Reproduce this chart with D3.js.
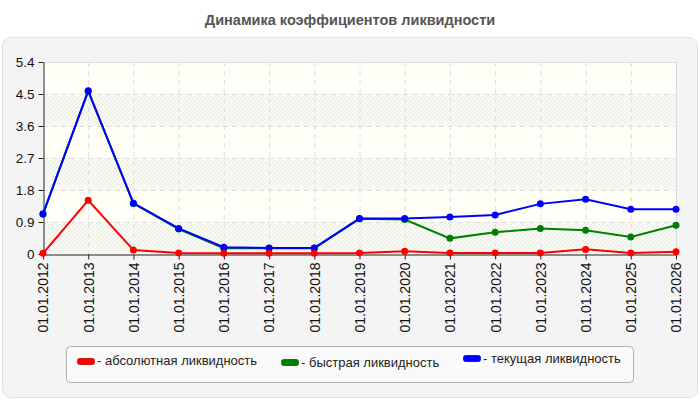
<!DOCTYPE html>
<html>
<head>
<meta charset="utf-8">
<script src="https://cdn.jsdelivr.net/npm/d3@7"></script>
<style>
  body { margin: 0; background: #fff; font-family: "Liberation Sans", Arial, sans-serif; }
  svg { display: block; }
</style>
</head>
<body>
<svg id="chart" width="700" height="400"></svg>
<script>
// dates on the x axis
const dates = ['01.01.2012', '01.01.2013', '01.01.2014', '01.01.2015', '01.01.2016',
  '01.01.2017', '01.01.2018', '01.01.2019', '01.01.2020', '01.01.2021',
  '01.01.2022', '01.01.2023', '01.01.2024', '01.01.2025', '01.01.2026'];

// liquidity ratios
const absolute = [0.02, 1.51, 0.11, 0.03, 0.02, 0.02, 0.02, 0.03, 0.08, 0.03, 0.03, 0.03, 0.13, 0.03, 0.06];
const quick    = [1.12, 4.58, 1.42, 0.70, 0.16, 0.16, 0.16, 0.99, 0.97, 0.44, 0.61, 0.72, 0.67, 0.48, 0.81];
const current  = [1.13, 4.59, 1.43, 0.72, 0.19, 0.17, 0.17, 1.00, 1.00, 1.04, 1.10, 1.41, 1.54, 1.26, 1.26];

const yTicks = [0, 0.9, 1.8, 2.7, 3.6, 4.5, 5.4];

const series = [
  { name: '- абсолютная ликвидность', values: absolute, color: '#ff0000' },
  { name: '- быстрая ликвидность', values: quick, color: '#008000' },
  { name: '- текущая ликвидность', values: current, color: '#0000ff' }
];

const svg = d3.select('#chart');
const margin = { left: 43, right: 24, top: 62, bottom: 146 };
const W = 700, H = 400;

const x = d3.scalePoint().domain(dates).range([margin.left, W - margin.right]);
const y = d3.scaleLinear().domain([0, 5.4]).range([H - margin.bottom, margin.top]);

// hatch pattern for the plot background
const defs = svg.append('defs');
const pat = defs.append('pattern')
  .attr('id', 'hatch')
  .attr('patternUnits', 'userSpaceOnUse')
  .attr('width', 4).attr('height', 4);
pat.append('rect').attr('width', 4).attr('height', 4).attr('fill', '#fafaf5');
pat.append('path').attr('d', 'M-1,1 l2,-2 M0,4 l4,-4 M3,5 l2,-2')
  .attr('stroke', '#e6e6e3').attr('stroke-width', 0.8);

// title
svg.append('text')
  .attr('x', 350).attr('y', 25)
  .attr('text-anchor', 'middle')
  .attr('font-size', 14.5).attr('font-weight', 'bold')
  .attr('fill', '#555')
  .text('Динамика коэффициентов ликвидности');

// outer panel
svg.append('rect')
  .attr('x', 2.5).attr('y', 37.5).attr('width', 695).attr('height', 360)
  .attr('rx', 8)
  .attr('fill', '#f4f4f4').attr('stroke', '#e2e2e2');

// plot background
const x0 = margin.left, x1 = W - margin.right;
svg.append('rect')
  .attr('x', x0).attr('y', y(5.4)).attr('width', x1 - x0).attr('height', y(0) - y(5.4))
  .attr('fill', '#fffff8');
// hatched bands
[[0, 0.9], [1.8, 2.7], [3.6, 4.5]].forEach(b => {
  svg.append('rect')
    .attr('x', x0).attr('y', y(b[1])).attr('width', x1 - x0).attr('height', y(b[0]) - y(b[1]))
    .attr('fill', 'url(#hatch)');
});

// grid
svg.append('g').selectAll('line')
  .data(yTicks.slice(1, -1))
  .join('line')
  .attr('x1', x0).attr('x2', x1)
  .attr('y1', d => y(d) + 0.5).attr('y2', d => y(d) + 0.5)
  .attr('stroke', '#dedede').attr('stroke-dasharray', '5,4');
svg.append('g').selectAll('line')
  .data(dates.slice(1, -1))
  .join('line')
  .attr('x1', d => x(d) + 0.5).attr('x2', d => x(d) + 0.5)
  .attr('y1', y(5.4)).attr('y2', y(0))
  .attr('stroke', '#dedede').attr('stroke-dasharray', '5,4');
// top and right border
svg.append('path')
  .attr('d', `M${x0},${y(5.4) + 0.5}H${x1 + 0.5}V${y(0)}`)
  .attr('fill', 'none').attr('stroke', '#dcdcdc');

// axes
const yAxis = svg.append('g')
  .attr('transform', `translate(${x0 + 0.5},0)`)
  .call(d3.axisLeft(y).tickValues(yTicks).tickSize(5).tickSizeOuter(0).tickFormat(d => d3.format('~g')(d)));
const xAxis = svg.append('g')
  .attr('transform', `translate(0,${y(0) + 0.5})`)
  .call(d3.axisBottom(x).tickSize(5).tickSizeOuter(0));
[yAxis, xAxis].forEach(g => {
  g.selectAll('.domain').attr('stroke', '#222');
  g.selectAll('.tick line').attr('stroke', '#222');
  g.selectAll('text').attr('fill', '#111')
    .attr('font-family', '"Liberation Sans", Arial, sans-serif');
});
yAxis.selectAll('text').attr('x', -9).attr('font-size', 13.5);
xAxis.selectAll('text')
  .attr('font-size', 14)
  .attr('transform', 'rotate(-90)')
  .attr('text-anchor', 'end')
  .attr('x', -8).attr('y', 0).attr('dy', '0.35em');

// lines and markers
const line = d3.line()
  .x((d, i) => x(dates[i]))
  .y(d => y(d));
// green first, then blue, red on top like the reference
const order = [series[1], series[2], series[0]];
order.forEach(s => {
  svg.append('path')
    .datum(s.values)
    .attr('d', line)
    .attr('fill', 'none')
    .attr('stroke', s.color)
    .attr('stroke-width', 2);
  svg.append('g').selectAll('circle')
    .data(s.values)
    .join('circle')
    .attr('cx', (d, i) => x(dates[i]))
    .attr('cy', d => y(d))
    .attr('r', 3.5)
    .attr('fill', s.color);
});

// legend
svg.append('rect')
  .attr('x', 66.5).attr('y', 346.5).attr('width', 567).attr('height', 36)
  .attr('rx', 4)
  .attr('fill', '#fafafa').attr('stroke', '#b0b0b0');
const legendPos = [
  { sx: 77, sy: 358, ty: 365 },
  { sx: 281, sy: 359, ty: 367 },
  { sx: 463, sy: 355, ty: 363 }
];
series.forEach((s, i) => {
  const p = legendPos[i];
  svg.append('rect')
    .attr('x', p.sx + 0.5).attr('y', p.sy + 0.5).attr('width', 17).attr('height', 6)
    .attr('rx', 2)
    .attr('fill', s.color).attr('stroke', d3.color(s.color).darker(0.6)).attr('stroke-width', 0.8);
  svg.append('text')
    .attr('x', p.sx + 20).attr('y', p.ty)
    .attr('font-size', 13).attr('fill', '#222')
    .text(s.name);
});
</script>
</body>
</html>
